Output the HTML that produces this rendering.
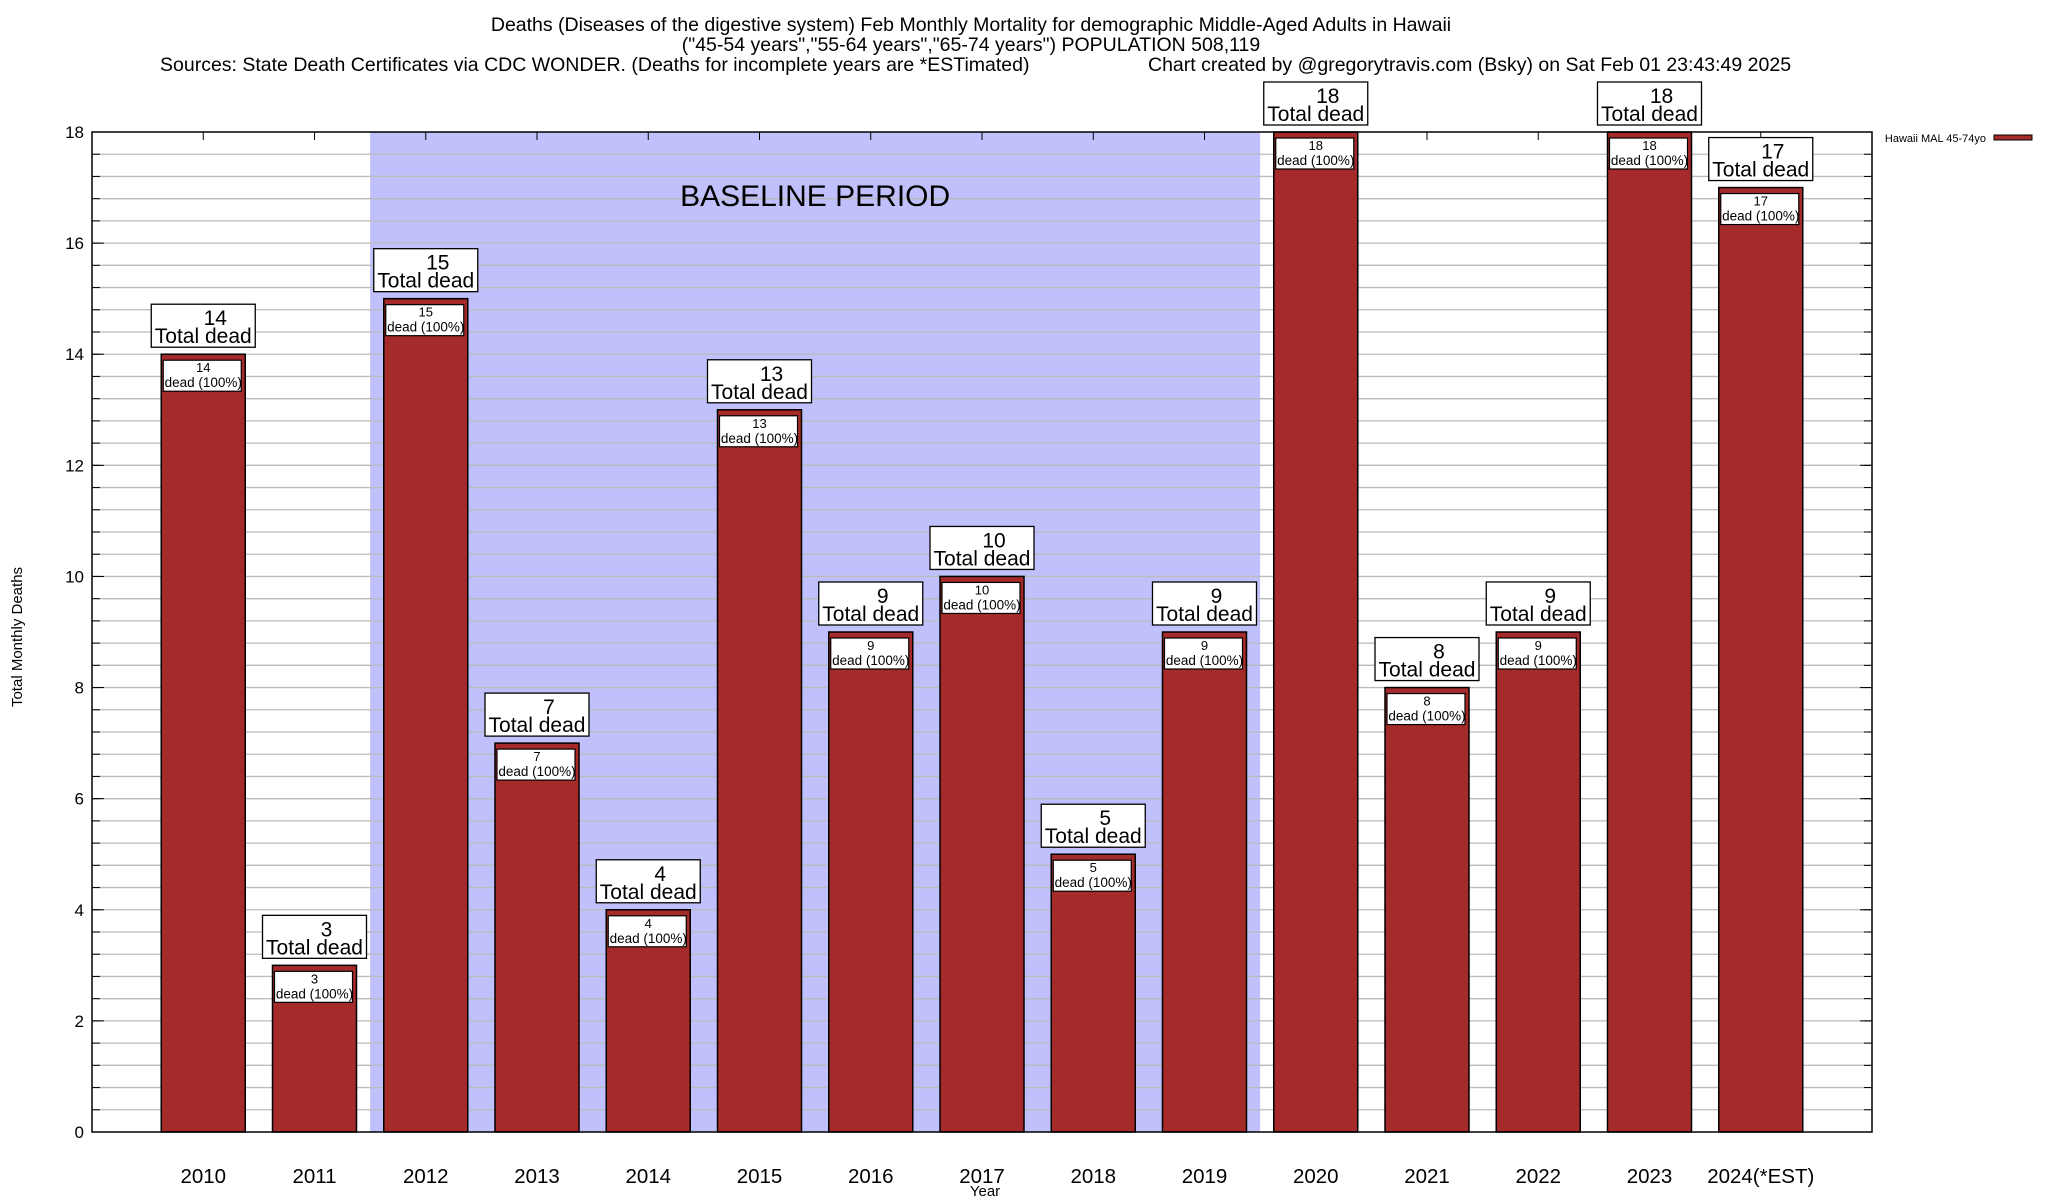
<!DOCTYPE html>
<html><head><meta charset="utf-8"><style>
html,body{margin:0;padding:0;background:#fff;}
svg{display:block;font-family:"Liberation Sans",sans-serif;}
</style></head><body>
<svg id="chart" width="2048" height="1200" viewBox="0 0 2048 1200">
<g font-size="19.5" fill="#000">
<text x="971" y="31" text-anchor="middle">Deaths (Diseases of the digestive system) Feb Monthly Mortality for demographic Middle-Aged Adults in Hawaii</text>
<text x="971" y="51" text-anchor="middle">("45-54 years","55-64 years","65-74 years") POPULATION 508,119</text>
<text x="160" y="71">Sources: State Death Certificates via CDC WONDER. (Deaths for incomplete years are *ESTimated)</text>
<text x="1148" y="71">Chart created by @gregorytravis.com (Bsky) on Sat Feb 01 23:43:49 2025</text>
</g>
<g id="plot"></g>
<text x="22" y="637" transform="rotate(-90 22 637)" text-anchor="middle" font-size="15">Total Monthly Deaths</text>
<text x="985" y="1196" text-anchor="middle" font-size="15">Year</text>
<g>
<text x="1986" y="142" font-size="11" text-anchor="end">Hawaii MAL 45-74yo</text>
<rect x="1994" y="135" width="38" height="5" fill="#a52a2a" stroke="#000" stroke-width="1"/>
</g>
</svg>
<script>
const categories=["2010","2011","2012","2013","2014","2015","2016","2017","2018","2019","2020","2021","2022","2023","2024(*EST)"];
const deaths=[14,3,15,7,4,13,9,10,5,9,18,8,9,18,17];
const yTicks=[0,2,4,6,8,10,12,14,16,18];
const baselineStart=2, baselineEnd=9;
const L=92,R=1872,T=132,B=1132,yMax=18;
const step=(R-L)/16;
function xPos(i){return L+(i+1)*step;}
function yPos(v){return B-(v/yMax)*(B-T);}
const NS="http://www.w3.org/2000/svg";
const g=document.getElementById('plot');
function mk(tag,attrs,parent,text){const e=document.createElementNS(NS,tag);for(const k in attrs)e.setAttribute(k,attrs[k]);if(text!==undefined)e.textContent=text;(parent||g).appendChild(e);return e;}
const sh=mk('rect',{x:xPos(baselineStart)-step/2,y:T,width:(baselineEnd-baselineStart+1)*step,height:B-T,fill:'#c0c0fc'});


for(let k=1;k<45;k++){const v=k*0.4;const y=yPos(v);
 const ln=mk('line',{x1:L,x2:R,y1:y,y2:y,stroke:'#bbb','stroke-width':1.3});
 
 
 mk('line',{x1:L,x2:L+8,y1:y,y2:y,stroke:'#000'});mk('line',{x1:R-8,x2:R,y1:y,y2:y,stroke:'#000'});}
const bt=mk('text',{x:xPos(5.5),y:206,'font-size':30,'text-anchor':'middle'},g,'BASELINE PERIOD');


yTicks.forEach(v=>{const y=yPos(v);
 mk('line',{x1:L,x2:L+12,y1:y,y2:y,stroke:'#000'});mk('line',{x1:R-12,x2:R,y1:y,y2:y,stroke:'#000'});
 const t=mk('text',{x:L-8,y:y+6,'font-size':17,'text-anchor':'end'},g,String(v));
 
 });
const bw=84;
categories.forEach((c,i)=>{const cx=xPos(i),v=deaths[i],y=yPos(v);
 mk('line',{x1:cx,x2:cx,y1:T,y2:T+8,stroke:'#000'});mk('line',{x1:cx,x2:cx,y1:B-8,y2:B,stroke:'#000'});
 const b=mk('rect',{x:cx-bw/2,y:y,width:bw,height:B-y,fill:'#a52a2a',stroke:'#000','stroke-width':1.5});
 
 
 const ib=mk('rect',{x:cx-bw/2+2,y:y+6,width:bw-6,height:31,fill:'#fff',stroke:'#000','stroke-width':1.2});
 
 
 mk('text',{x:cx,y:y+18,'font-size':13,'text-anchor':'middle'},g,String(v));
 mk('text',{x:cx,y:y+33,'font-size':13.5,'text-anchor':'middle'},g,'dead (100%)');
 const tb=mk('rect',{x:cx-52,y:y-50,width:104,height:43,fill:'#fff',stroke:'#000','stroke-width':1.3});
 
 
 mk('text',{x:cx+12,y:y-29,'font-size':21,'text-anchor':'middle'},g,String(v));
 mk('text',{x:cx,y:y-11,'font-size':21,'text-anchor':'middle'},g,'Total dead');
 const xl=mk('text',{x:cx,y:1183,'font-size':20.5,'text-anchor':'middle'},g,c);
 
 });
const fr=mk('rect',{x:L,y:T,width:R-L,height:B-T,fill:'none',stroke:'#000','stroke-width':1.5});


</script>
</body></html>
